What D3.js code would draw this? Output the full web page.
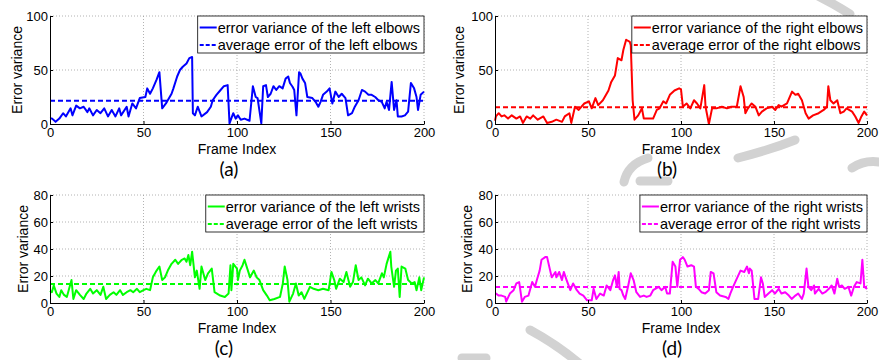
<!DOCTYPE html>
<html>
<head>
<meta charset="utf-8">
<script src="https://cdn.jsdelivr.net/npm/d3@7/dist/d3.min.js"></script>
<style>
  html, body { margin: 0; padding: 0; background: #fff; }
  svg { display: block; }
  text { font-family: "Liberation Sans", Arial, sans-serif; fill: #000; }
</style>
</head>
<body>
<svg id="chart" width="879" height="360"></svg>
<script>
// ---------------- data ----------------
const frameTicks = [0, 50, 100, 150, 200];
const elbowTicks = [0, 50, 100];
const wristTicks = [0, 20, 40, 60, 80];

// [frame index, error variance]
const leftElbow = [
  [0,5],[1,5.2],[3,2],[5,5],[7,10],[8.5,7],[11,14.5],[12,8],[14,17],[16,14.5],[18,16],[20,11],
  [21,14.5],[23,8],[25,13],[27,10],[29,14.5],[31,7],[33,13],[35,7],[37,14.5],[38,8],[41,16],
  [42,7],[44,19],[46,14.5],[48,24],[51,25],[52,33],[53.5,28],[55,33],[57,41],[58.5,48],[60,14.5],
  [62,19],[65,28],[66,33],[68,44],[69.5,50],[71,53],[73,56],[74.5,61],[76,62],[76.4,10],[77.5,8],
  [79,16],[81,7],[84,11],[86,16],[87,22],[89,27],[91,31],[93,35],[95,36],[96,0.5],[98,10],
  [99.3,5],[100.5,8],[102,4],[104,5],[106.7,3],[108.5,35],[110,25],[111,24],[113,0.5],[114,35],
  [115.5,36],[116.5,25],[118,28],[119.5,35],[121,31.5],[122.6,35],[124.4,33],[126,42],[127.4,44],
  [128.3,38],[129.7,34.5],[130.6,31.5],[131.8,8],[133.2,48],[134,46.5],[135,42],[136.4,38],
  [137.6,25],[140.3,24],[142,20.5],[143.5,16],[144.7,20.5],[146,27],[148,30],[149.5,33],[151,19],
  [152.6,30],[154.4,25],[156,28],[158,24],[159.4,8],[161.5,10],[163,16],[165,22],[166.8,31.5],
  [168.5,30],[170.3,27],[172,27],[173.9,25],[175.6,22],[177.4,20.5],[179,14.5],[180,20.5],
  [181.3,13],[182.7,39],[184,13],[185.3,22],[186,7],[188,7],[189.8,8],[191.5,11.5],[193,38],
  [194.7,33],[196,25],[196.8,13],[198.2,27],[200,30]
];
const rightElbow = [
  [0,3],[0.5,7],[2,10],[3.5,7],[5,8],[7,5],[9,8],[11.5,5],[13.5,7],[15,1],[17,7],[19,5],[20.5,8],
  [23,4],[26,7],[28,1],[30.5,2],[33,4],[36,2],[37.5,7],[40,10],[41,1],[43,16],[45,13],[46.5,16],
  [48,19],[50.5,21],[52,14.5],[54,24],[55.5,17.5],[58,22],[61,31],[62.5,39],[64.5,45],[66,61],
  [68,59],[69,68.5],[70.5,78],[72.5,76],[73,73],[74,22],[75,4],[77,8],[79,14.5],[80,5],[82,5],
  [85,5],[87,13],[88.5,14.5],[90.5,21],[92,19],[94,27],[96.5,31],[99,33],[100,32],[101,16],
  [103,19],[105,14.5],[107,22],[108.6,19],[110.4,14.5],[112.5,36],[113.2,16],[115,0],[116.7,14.5],
  [119,14.5],[122,16],[124.7,14.5],[127,16],[130,16],[132,35],[133.7,25],[134.6,10],[136,14.5],
  [138,19],[140,16],[141.8,8],[143.5,11.5],[146,14.5],[149,16],[150.7,13],[152.5,17.5],[154,16],
  [157,19],[159.7,30],[161.5,27],[163,28],[165,22],[167,10],[168.6,5],[171,8],[174,10],[176.7,13],
  [178.5,16],[179.2,35],[180.3,22],[182,19],[184,22],[185.7,10],[187.5,11.5],[189,14.5],[192,11.5],
  [193.7,7],[195.5,1],[197,7],[198.5,11.5],[200,8]
];
const leftWrist = [
  [0,9],[1,8],[2,13],[3.5,7],[5,4.5],[6,9.5],[7.5,6],[9,4.5],[10,9.5],[11.5,17],[12.5,3],[14,9.5],
  [16,6],[18,3],[19.5,7],[21.5,10.5],[23,7],[25,9.5],[27,6],[28.5,12],[30,3],[32,6],[34,8],
  [35.5,6],[37.5,9.5],[39,6],[41,8],[43,9.5],[44.5,8],[46.5,10.5],[48,8],[50,9.5],[51.5,10.5],
  [53.5,9.5],[55,19],[57,24],[58.5,27],[60,17],[61.5,19],[63,24],[65,29],[67,32],[68.5,29],
  [70.5,32],[72,33],[73,30.5],[74,35.5],[75,28],[76,38],[77.5,19],[78.5,24],[80,10.5],[81,27],
  [83,17],[84.5,22],[86.5,25.5],[88,8],[91,5.5],[93.5,4.5],[95.5,7],[96.5,28],[97,9.5],[98,29],
  [100,25.5],[100.5,17],[101.5,24],[103,28],[104,32],[105.5,25.5],[107,19],[109,24],[110.5,19],
  [112,17],[114,9.5],[116,5.5],[117.5,2],[120,3],[123,4.5],[124.5,14.5],[125.5,27],[127,17],
  [128,1],[130,7],[131.5,14.5],[133,5.5],[134.5,8],[136,3],[139,12],[141,10.5],[143.5,9.5],
  [146,10.5],[149,9.5],[150.5,23],[152,17],[153,10.5],[155,18],[157,15.5],[158.5,23],[160.5,12],
  [162,15.5],[163.5,28],[165,17],[166.5,19],[168.5,13],[170,18],[172,14.5],[174,17],[175.5,14.5],
  [177.5,22],[178.5,19],[180,29],[182,38],[182.5,27],[184,12],[185,24],[186,25.5],[187,4.5],
  [188,27],[190,25.5],[191.5,17],[193.5,14.5],[195,15.5],[196,9.5],[197.5,19],[198.5,9.5],[200,19]
];
const rightWrist = [
  [0,7],[0.5,7],[2,5.5],[3.5,5.5],[5.5,4.5],[6,1],[8,7],[10,9.5],[11.5,14.5],[13,15.5],[14.5,1],
  [16,4.5],[18,5.5],[20,15.5],[21.5,12],[22.5,17],[24,24],[25,32],[27,34],[28,34],[30.5,19],
  [32.5,23],[33,19],[34.5,23],[36,17],[37,23],[38.5,17],[40.5,9.5],[42,14.5],[44,9.5],[45.5,7],
  [47.5,5.5],[49.5,2],[52,2],[53,10.5],[54.5,3],[56.5,7],[58.5,5.5],[60,13],[62,9.5],[63.5,17],
  [64.5,20.5],[65.5,12],[66.5,23],[67,10.5],[68,9.5],[69,5.5],[70,3],[71.5,12],[73,22],[74.5,17],
  [76,8],[78,4.5],[80,5.5],[81.5,4.5],[83.5,5.5],[85,9.5],[88,12],[89.5,9.5],[91.5,12],[92.5,7],
  [94,7],[95.5,30.5],[97,27],[98,12],[99.5,32],[101,34],[102,32],[103.5,27],[105.5,28],[107,27],
  [108,12],[109.5,10.5],[111,8],[113,7],[115,9.5],[116,23],[117.5,22],[119,8],[121,5.5],[124,4.5],
  [125.5,3],[126.5,7],[128,12],[130,18],[132,24],[134,23],[135.5,27],[136.5,22],[137,25.5],
  [138,24],[139.5,3],[141.5,3],[143,19],[144,14.5],[145,4.5],[147,7],[149,9.5],[150.5,7],
  [152.5,10.5],[154,7],[156,8],[158,5.5],[159.5,3],[161.5,5.5],[163,7],[165,3],[166,7],
  [167.5,25.5],[168.5,12],[170,9.5],[171.5,13],[172,7],[174,10.5],[176,7],[177.5,8],[179.5,10.5],
  [181,13],[182.5,7],[184,18],[185,12],[186.5,13],[188,10.5],[190,12],[191.5,5.5],[193,12],
  [194.5,15.5],[196.5,14.5],[197.5,32],[198.5,12],[200,10.5]
];

const leftElbowAvg = 21.6;
const rightElbowAvg = 15.4;
const leftWristAvg = 14.1;
const rightWristAvg = 11.9;

const legendLabels = [
  ["error variance of the left elbows", "average error of the left elbows"],
  ["error variance of the right elbows", "average error of the right elbows"],
  ["error variance of the left wrists", "average error of the left wrists"],
  ["error variance of the right wrists", "average error of the right wrists"]
];
const panelNames = ["(a)", "(b)", "(c)", "(d)"];
const xTitle = "Frame Index";
const yTitle = "Error variance";

// ---------------- layout ----------------
const panels = [
  { series: leftElbow,  avg: leftElbowAvg,  ticks: elbowTicks, color: "#0000ff",
    x0: 50,  x1: 424, y0: 16,  y1: 124, ylabX: 22,  tagX: 229, tagY: 176 },
  { series: rightElbow, avg: rightElbowAvg, ticks: elbowTicks, color: "#ff0000",
    x0: 495, x1: 867, y0: 16,  y1: 124, ylabX: 464, tagX: 667, tagY: 176 },
  { series: leftWrist,  avg: leftWristAvg,  ticks: wristTicks, color: "#00ff00",
    x0: 50,  x1: 424, y0: 195, y1: 303, ylabX: 28,  tagX: 224, tagY: 355 },
  { series: rightWrist, avg: rightWristAvg, ticks: wristTicks, color: "#ff00ff",
    x0: 495, x1: 867, y0: 195, y1: 303, ylabX: 472, tagX: 672, tagY: 355 }
];

const svg = d3.select("#chart");
svg.append("rect").attr("width", 879).attr("height", 360).attr("fill", "#fff");

// faint grey watermark strokes present in the source picture
const wm = svg.append("g").attr("fill", "none").attr("stroke", "#d2d2d2")
  .attr("stroke-linecap", "round").attr("stroke-width", 9);
wm.append("path").attr("d", "M818,-4 Q834,4 850,14");
wm.append("path").attr("d", "M624,182 Q628,164 648,158");
wm.append("path").attr("d", "M738,158 Q770,150 795,140");
wm.append("path").attr("d", "M852,168 Q864,160 879,162");
wm.append("path").attr("d", "M640,181 L668,181");
wm.append("path").attr("d", "M530,330 Q556,344 580,364");
wm.append("path").attr("d", "M462,358 L486,358");

panels.forEach((p, i) => {
  const x = d3.scaleLinear().domain([0, 200]).range([p.x0, p.x1]);
  const yMax = p.ticks[p.ticks.length - 1];
  const y = d3.scaleLinear().domain([0, yMax]).range([p.y1, p.y0]);
  const g = svg.append("g");

  // grid
  const grid = g.append("g").attr("stroke", "#a0a0a0").attr("stroke-width", 0.8)
    .attr("stroke-dasharray", "1,2");
  frameTicks.filter(t => t > 0).forEach(t => {
    grid.append("line").attr("x1", x(t)).attr("x2", x(t)).attr("y1", p.y0).attr("y2", p.y1);
  });
  p.ticks.filter(t => t > 0).forEach(t => {
    grid.append("line").attr("x1", p.x0).attr("x2", p.x1).attr("y1", y(t)).attr("y2", y(t));
  });

  // average line
  g.append("line")
    .attr("x1", x(0)).attr("x2", x(200)).attr("y1", y(p.avg)).attr("y2", y(p.avg))
    .attr("stroke", p.color).attr("stroke-width", 2).attr("stroke-dasharray", "5,3");

  // series
  const line = d3.line().x(d => x(d[0])).y(d => y(d[1]));
  g.append("path").datum(p.series).attr("d", line)
    .attr("fill", "none").attr("stroke", p.color).attr("stroke-width", 2)
    .attr("stroke-linejoin", "round");

  // axes
  const xa = g.append("g").attr("transform", `translate(0,${p.y1})`)
    .call(d3.axisBottom(x).tickValues(frameTicks).tickSizeInner(-3).tickSizeOuter(0).tickPadding(4));
  const ya = g.append("g").attr("transform", `translate(${p.x0},0)`)
    .call(d3.axisLeft(y).tickValues(p.ticks).tickSizeInner(-3).tickSizeOuter(0).tickPadding(2));
  [xa, ya].forEach(a => {
    a.selectAll("text").style("font-family", '"Liberation Sans", Arial, sans-serif')
      .style("font-size", "13px").attr("fill", "#000");
    a.select(".domain").attr("stroke", "#000").attr("stroke-width", 1);
    a.selectAll(".tick line").attr("stroke", "#000");
  });

  // axis titles
  g.append("text").attr("x", (p.x0 + p.x1) / 2).attr("y", p.y1 + 29.5)
    .attr("text-anchor", "middle").style("font-size", "14px").text(xTitle);
  g.append("text").attr("transform", `translate(${p.ylabX},${(p.y0 + p.y1) / 2}) rotate(-90)`)
    .attr("text-anchor", "middle").style("font-size", "14px").text(yTitle);

  // panel tag
  g.append("text").attr("x", p.tagX).attr("y", p.tagY).attr("text-anchor", "middle")
    .style("font-family", "Lato, 'Open Sans', sans-serif").style("font-size", "19px")
    .text(panelNames[i]);

  // legend
  const lg = g.append("g");
  const box = lg.append("rect").attr("fill", "#fff").attr("stroke", "#000").attr("stroke-width", 0.8);
  const t1 = lg.append("text").style("font-size", "14.5px").text(legendLabels[i][0]);
  const t2 = lg.append("text").style("font-size", "14.5px").text(legendLabels[i][1]);
  const tw = Math.max(t1.node().getComputedTextLength(), t2.node().getComputedTextLength());
  const bw = tw + 24, bh = 37;
  const bx = p.x1 - bw, by = p.y0;
  box.attr("x", bx).attr("y", by).attr("width", bw).attr("height", bh);
  const r1 = by + 11.5, r2 = by + 29;
  t1.attr("x", bx + 20).attr("y", r1).attr("dy", "0.35em");
  t2.attr("x", bx + 20).attr("y", r2).attr("dy", "0.35em");
  lg.append("line").attr("x1", bx + 2).attr("x2", bx + 19).attr("y1", r1).attr("y2", r1)
    .attr("stroke", p.color).attr("stroke-width", 2);
  lg.append("line").attr("x1", bx + 2).attr("x2", bx + 19).attr("y1", r2).attr("y2", r2)
    .attr("stroke", p.color).attr("stroke-width", 2).attr("stroke-dasharray", "4,2");
});
</script>
</body>
</html>
